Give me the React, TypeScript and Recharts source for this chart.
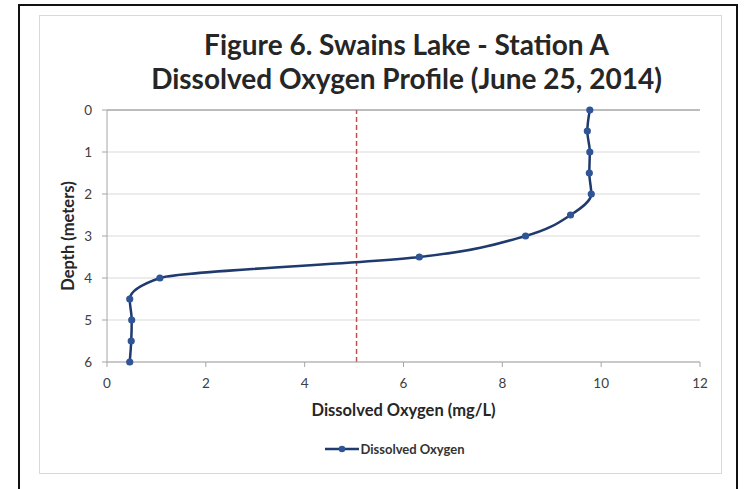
import { ScatterChart, Scatter, XAxis, YAxis, CartesianGrid, ReferenceLine, Label } from 'recharts';

const depths = [0, 0.5, 1, 1.5, 2, 2.5, 3, 3.5, 4, 4.5, 5, 5.5, 6];
const oxygen = [9.77, 9.72, 9.77, 9.76, 9.8, 9.38, 8.47, 6.32, 1.07, 0.46, 0.5, 0.49, 0.46];
const xTicks = [0, 2, 4, 6, 8, 10, 12];
const yTicks = [0, 1, 2, 3, 4, 5, 6];
const threshold = 5.05;

const data = depths.map((d, i) => ({ depth: d, oxygen: oxygen[i] }));

const FONT = 'Lato, "Open Sans", sans-serif';

const Dot = (props: any) => <circle cx={props.cx} cy={props.cy} r={3.6} fill="#2f5597" />;

const LegendBox = () => (
  <div style={{ position: 'absolute', left: 0, top: 441, width: 790, display: 'flex', justifyContent: 'center', alignItems: 'center', fontFamily: FONT, fontSize: 13, fontWeight: 700, color: '#333' }}>
    <svg width={34} height={10} style={{ marginRight: 1 }}>
      <line x1={0} y1={5} x2={34} y2={5} stroke="#1f3a6e" strokeWidth={2.5} />
      <circle cx={17} cy={5} r={3.3} fill="#2f5597" />
    </svg>
    <span>Dissolved Oxygen</span>
  </div>
);

export default function App() {
  return (
    <div style={{ position: 'absolute', left: 0, top: 0, width: 744, height: 489, background: '#fff', overflow: 'hidden' }}>
      <div style={{ position: 'absolute', left: 18, top: 4, width: 720, height: 500, border: '2.5px solid #111', boxSizing: 'border-box' }} />
      <div style={{ position: 'absolute', left: 39, top: 15, width: 683, height: 459, border: '1px solid #d9d9d9', boxSizing: 'border-box' }} />
      <div style={{ position: 'absolute', left: 105, top: 27, width: 603, textAlign: 'center', fontFamily: FONT, fontWeight: 700, fontSize: 28, lineHeight: '34px', color: '#262626' }}>
        <div>Figure 6. Swains Lake - Station A</div>
        <div>Dissolved Oxygen Profile (June 25, 2014)</div>
      </div>
      <ScatterChart width={744} height={489} margin={{ top: 110, right: 44, bottom: 67, left: 47 }} style={{ position: 'absolute', left: 0, top: 0 }}>
        <CartesianGrid horizontal vertical={false} stroke="#d9d9d9" />
        <XAxis
          type="number"
          dataKey="oxygen"
          domain={[0, 12]}
          ticks={xTicks}
          height={60}
          stroke="#a6a6a6"
          tickSize={5}
          tickMargin={11}
          tick={{ fill: '#404040', fontSize: 13.5, fontFamily: FONT }}
        >
          <Label value="Dissolved Oxygen (mg/L)" position="insideBottom" offset={6} style={{ fill: '#262626', fontSize: 16.5, fontWeight: 700, fontFamily: FONT }} />
        </XAxis>
        <YAxis
          type="number"
          dataKey="depth"
          domain={[0, 6]}
          ticks={yTicks}
          reversed
          width={60}
          stroke="#a6a6a6"
          tickSize={5}
          tickMargin={10}
          tick={{ fill: '#404040', fontSize: 13.5, fontFamily: FONT }}
        >
          <Label value="Depth (meters)" angle={-90} position="insideLeft" offset={21} style={{ fill: '#262626', fontSize: 16.5, fontWeight: 700, fontFamily: FONT, textAnchor: 'middle' }} />
        </YAxis>
        <ReferenceLine x={threshold} stroke="#c0504d" strokeWidth={1.5} strokeDasharray="5 3" />
        <ReferenceLine y={0} stroke="#8c8c8c" />
        <Scatter
          name="Dissolved Oxygen"
          data={data}
          line={{ stroke: '#1f3a6e', strokeWidth: 2.5 }}
          lineJointType="monotoneY"
          shape={Dot}
          isAnimationActive={false}
        />
      </ScatterChart>
      <LegendBox />
    </div>
  );
}
